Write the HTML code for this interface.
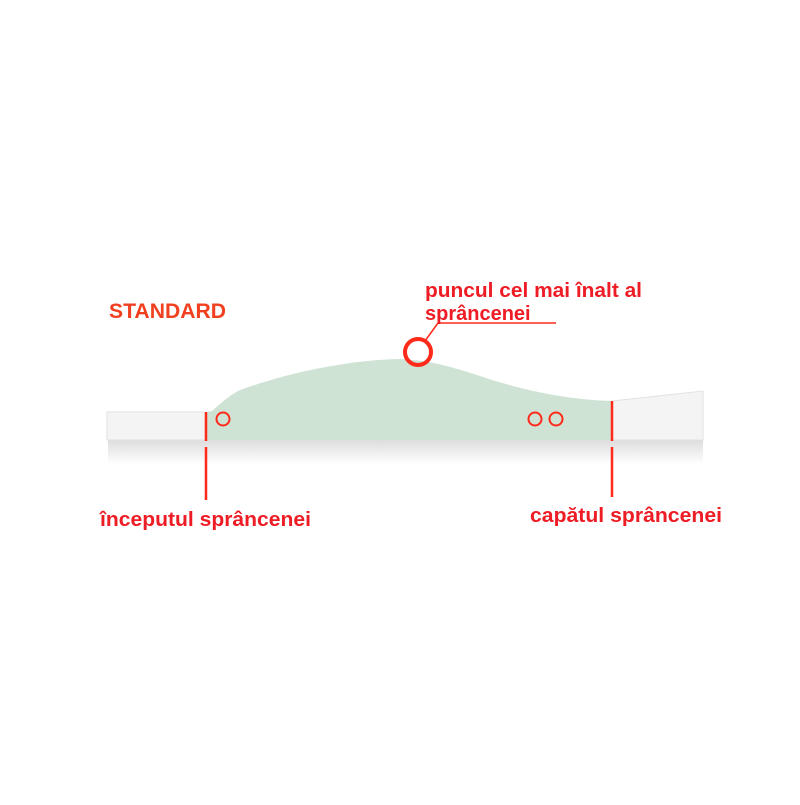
<!DOCTYPE html>
<html><head><meta charset="utf-8"><style>
body{margin:0;width:800px;height:800px;background:#fff;overflow:hidden;font-family:"Liberation Sans",sans-serif}
</style></head><body>
<svg width="800" height="800" viewBox="0 0 800 800" xmlns="http://www.w3.org/2000/svg">
<defs>
<linearGradient id="sh" x1="0" y1="0" x2="0" y2="1">
<stop offset="0" stop-color="#d4d4d4"/><stop offset="1" stop-color="#fff"/>
</linearGradient>
</defs>
<rect x="108" y="440" width="595" height="24" fill="url(#sh)" opacity="0.8"/>
<path d="M107 412 L205 412 L205 440 L107 440 Z" fill="#f4f4f4" stroke="#e2e2e2" stroke-width="1"/>
<path d="M612 401 L703 391 L703 440 L612 440 Z" fill="#f4f4f4" stroke="#e2e2e2" stroke-width="1"/>
<path d="M205 412 L212 411 C222 402 230 395 240 390 C290 372 350 360 400 359 C430 360 455 368 480 376 C530 393 575 400 612 401 L612 440 L205 440 Z" fill="#cfe3d5"/>
<g stroke="#ff2a1a" fill="none">
<line x1="206" y1="412" x2="206" y2="441" stroke-width="2.5"/>
<line x1="206" y1="447" x2="206" y2="500" stroke-width="2.5"/>
<line x1="612" y1="401" x2="612" y2="441" stroke-width="2.5"/>
<line x1="612" y1="447" x2="612" y2="497" stroke-width="2.5"/>
<circle cx="223" cy="419" r="6.5" stroke-width="2"/>
<circle cx="535" cy="419" r="6.5" stroke-width="2"/>
<circle cx="556" cy="419" r="6.5" stroke-width="2"/>
<circle cx="418" cy="352" r="13" stroke-width="4"/>
<line x1="438" y1="323" x2="556" y2="323" stroke-width="1.5"/>
<line x1="438" y1="323" x2="425" y2="341" stroke-width="1.5"/>
</g>
<g fill="#ee1c25" font-weight="bold" font-family="Liberation Sans, sans-serif">
<text x="109" y="318" font-size="21" fill="#f04020" textLength="117" lengthAdjust="spacingAndGlyphs">STANDARD</text>
<text x="425" y="297" font-size="20" textLength="217" lengthAdjust="spacingAndGlyphs">puncul cel mai înalt al</text>
<text x="425" y="320" font-size="20">sprâncenei</text>
<text x="100" y="526" font-size="20" textLength="211" lengthAdjust="spacingAndGlyphs">începutul sprâncenei</text>
<text x="530" y="522" font-size="20" textLength="192" lengthAdjust="spacingAndGlyphs">capătul sprâncenei</text>
</g>
</svg>
</body></html>
